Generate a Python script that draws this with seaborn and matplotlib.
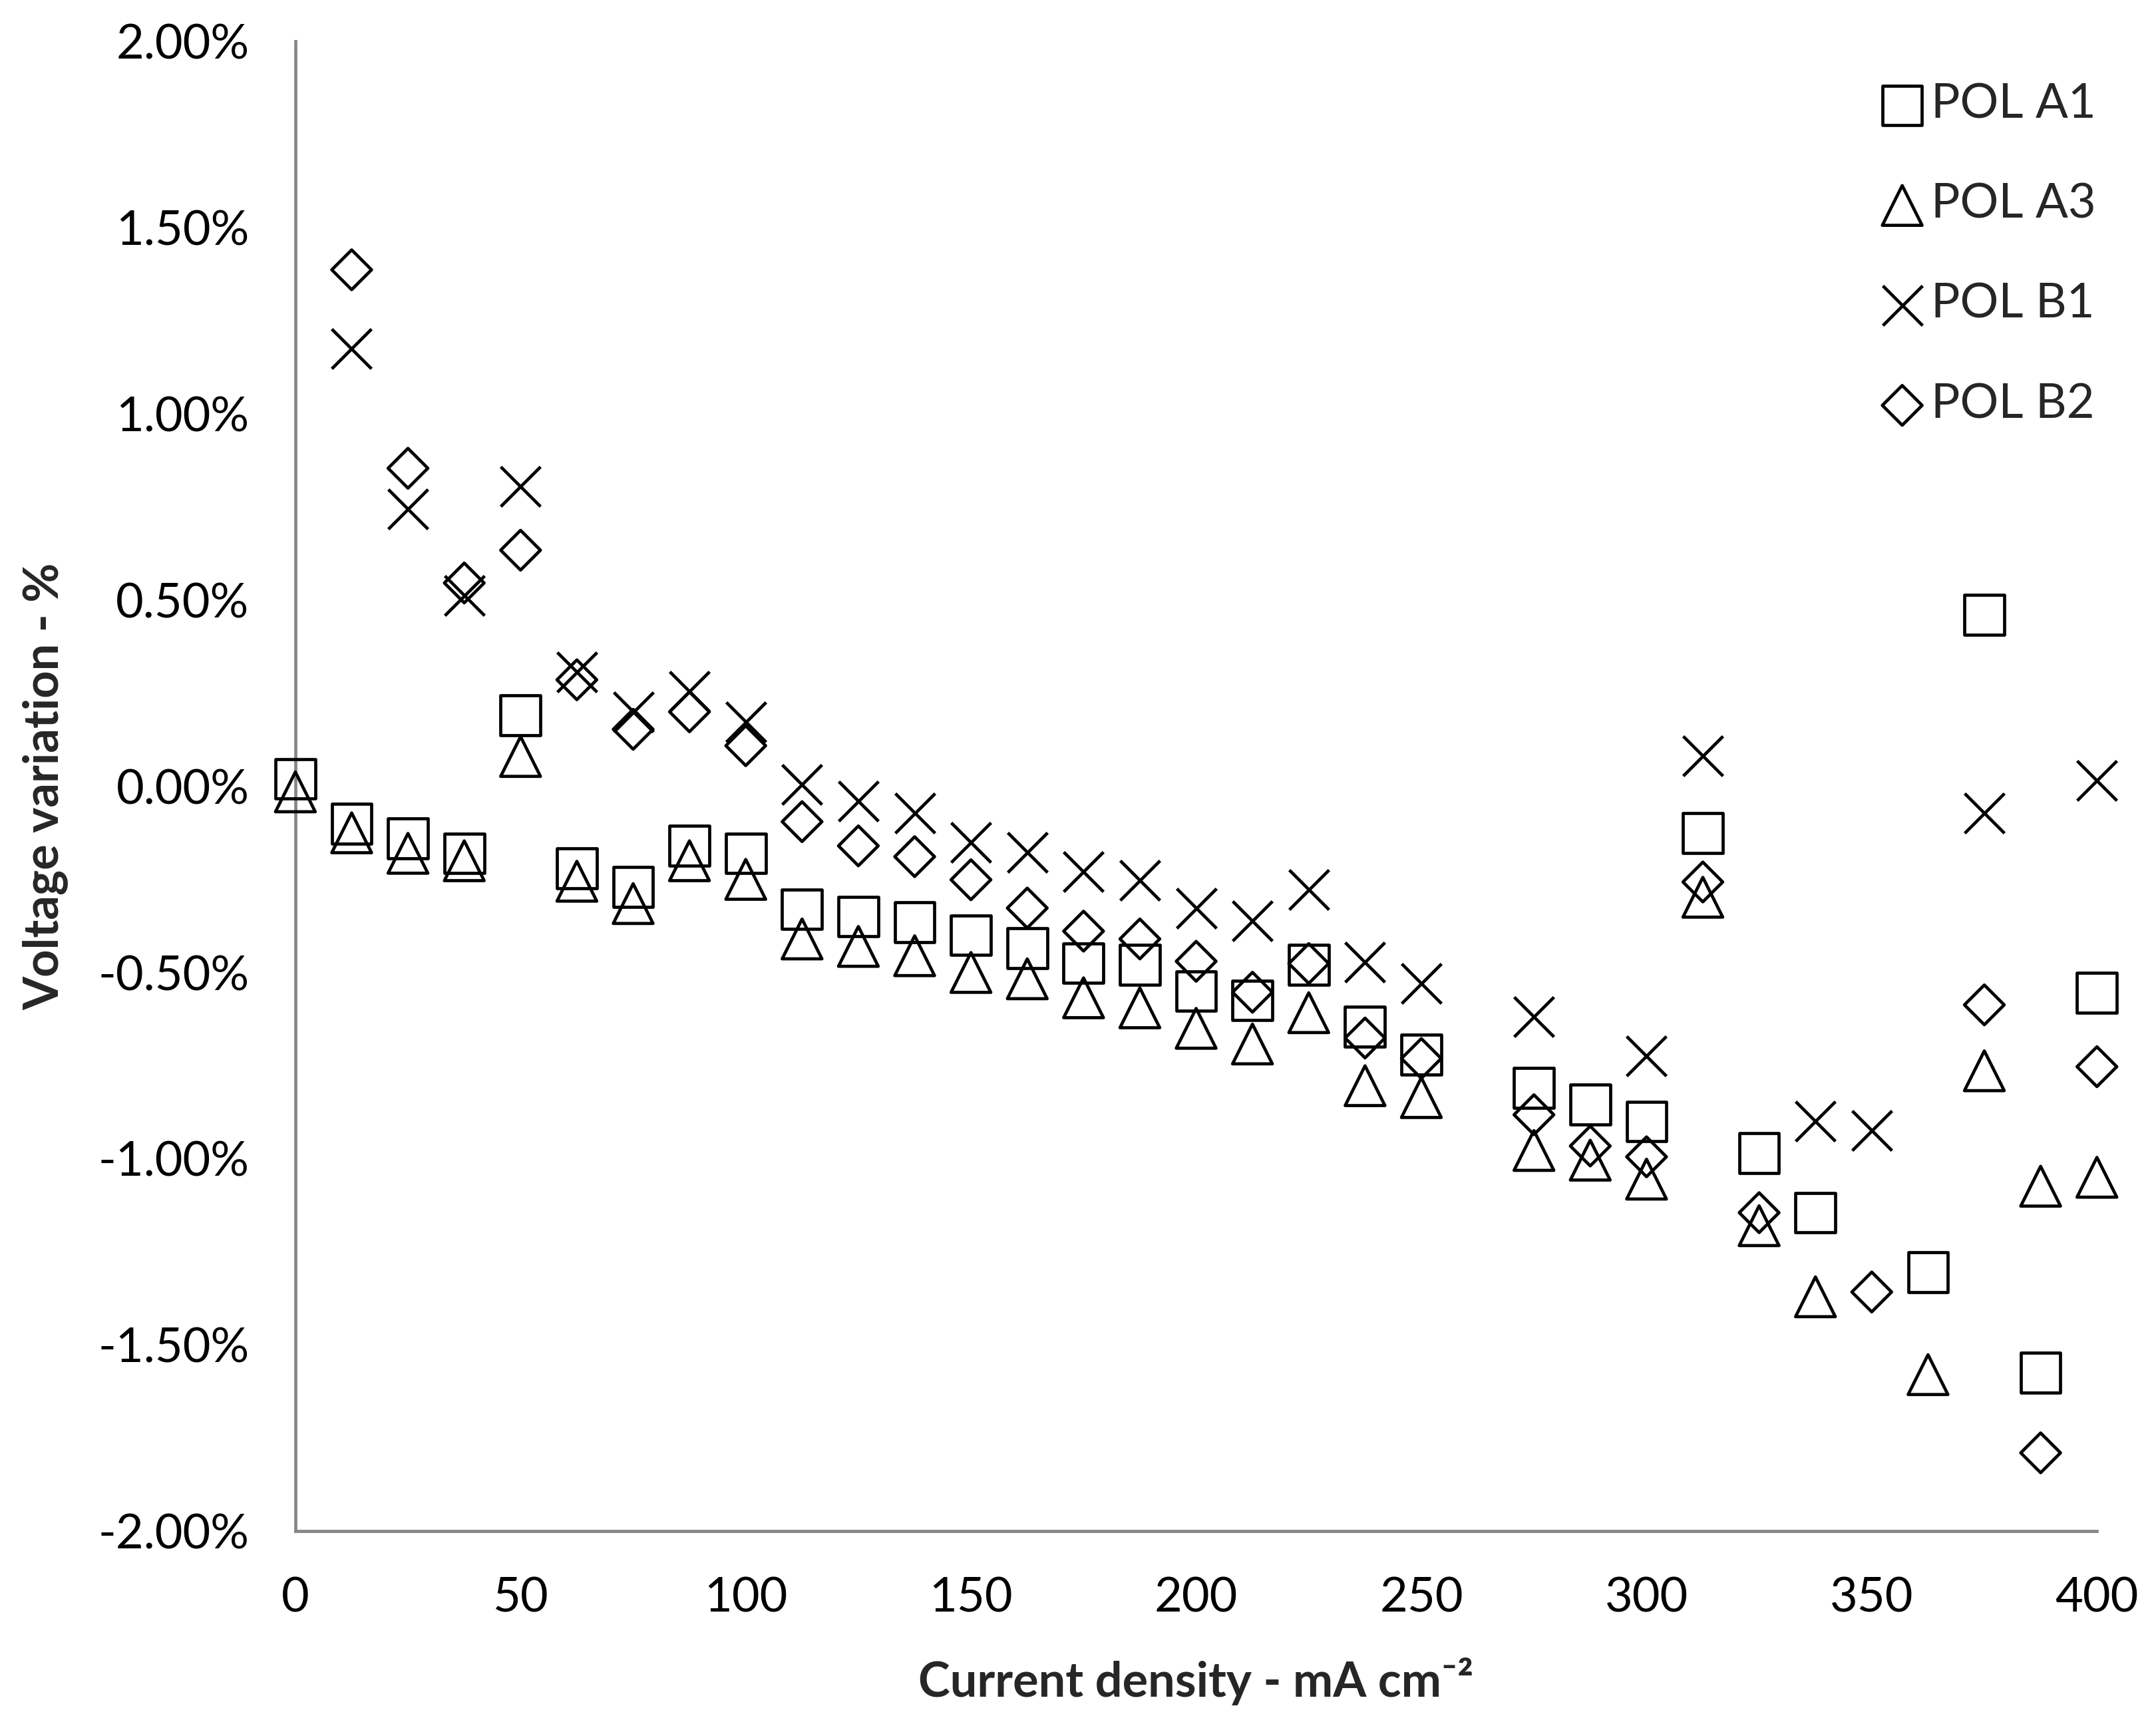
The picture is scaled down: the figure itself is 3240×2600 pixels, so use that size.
import matplotlib
matplotlib.use("Agg")
import matplotlib.pyplot as plt
import numpy as np
import pandas as pd
import seaborn as sns
from matplotlib.ticker import FuncFormatter

nan = np.nan

# current density, mA cm-2
current_density = [0, 12.5, 25, 37.5, 50, 62.5, 75, 87.5, 100, 112.5, 125,
                   137.5, 150, 162.5, 175, 187.5, 200, 212.5, 225, 237.5, 250,
                   262.5, 275, 287.5, 300, 312.5, 325, 337.5, 350, 362.5, 375,
                   387.5, 400]

# voltage variation in %
pol_a1 = [0.02, -0.10, -0.14, -0.18, 0.19, -0.22, -0.27, -0.16, -0.18, -0.33,
          -0.35, -0.365, -0.40, -0.435, -0.475, -0.48, -0.55, -0.575, -0.48,
          -0.645, -0.72, nan, -0.81, -0.855, -0.90, -0.125, -0.985, -1.145,
          nan, -1.305, 0.46, -1.575, -0.555]
pol_a3 = [-0.015, -0.125, -0.18, -0.20, 0.08, -0.255, -0.315, -0.20, -0.25,
          -0.41, -0.43, -0.455, -0.50, -0.517, -0.568, -0.595, -0.65, -0.692,
          -0.608, -0.804, -0.836, nan, -0.978, -1.004, -1.055, -0.298, -1.18,
          -1.371, nan, -1.58, -0.764, -1.074, -1.05]
pol_b1 = [nan, 1.176, 0.744, 0.512, 0.806, 0.307, 0.20, 0.255, 0.173, 0.005,
          -0.04, -0.072, -0.151, -0.178, -0.23, -0.253, -0.327, -0.362,
          -0.278, -0.472, -0.529, nan, -0.619, nan, -0.724, 0.081, nan, -0.90,
          -0.925, nan, -0.072, nan, 0.016]
pol_b2 = [nan, 1.387, 0.854, 0.546, 0.634, 0.286, 0.153, 0.20, 0.109, -0.095,
          -0.16, -0.189, -0.251, -0.327, -0.389, -0.41, -0.47, -0.553, -0.476,
          -0.676, -0.731, nan, -0.882, -0.966, -0.995, -0.257, -1.145, nan,
          -1.358, nan, -0.587, -1.79, -0.753]

series_names = ["POL A1", "POL A3", "POL B1", "POL B2"]
series_values = [pol_a1, pol_a3, pol_b1, pol_b2]
series_markers = ["s", "^", "x", "D"]
series_sizes = [1850, 1850, 1850, 925]

x_ticks = [0, 50, 100, 150, 200, 250, 300, 350, 400]
y_ticks = [-2.0, -1.5, -1.0, -0.5, 0.0, 0.5, 1.0, 1.5, 2.0]


def main():
    sns.set_style("white")
    plt.rcParams["font.family"] = ["Lato", "DejaVu Sans"]
    grey = "#868686"

    fig = plt.figure(figsize=(32.4, 26), dpi=100)
    ax = fig.add_axes([0.137, 0.115, 0.8356, 0.861])

    for name, vals, mk, sz in zip(series_names, series_values,
                                  series_markers, series_sizes):
        df = pd.DataFrame({"x": current_density, "y": vals}).dropna()
        if mk == "x":
            sns.scatterplot(data=df, x="x", y="y", marker=mk, s=sz,
                            color="black", linewidth=3.4, clip_on=False,
                            label=name, ax=ax, zorder=3)
        else:
            sns.scatterplot(data=df, x="x", y="y", marker=mk, s=sz,
                            facecolor="none", edgecolor="black",
                            linewidth=3.4, clip_on=False, label=name,
                            ax=ax, zorder=3)

    ax.set_xlim(0, 400)
    ax.set_ylim(-2, 2)
    ax.set_xticks(x_ticks)
    ax.set_yticks(y_ticks)
    ax.yaxis.set_major_formatter(FuncFormatter(lambda v, p: f"{v:.2f}%"))
    ax.tick_params(axis="both", direction="in", length=19, width=3,
                   color=grey, labelsize=52, labelcolor="black")
    ax.tick_params(axis="y", pad=50)
    ax.tick_params(axis="x", pad=49)

    for side in ["top", "right"]:
        ax.spines[side].set_visible(False)
    for side in ["left", "bottom"]:
        ax.spines[side].set_color(grey)
        ax.spines[side].set_linewidth(3.4)

    ax.set_xlabel("Current density - mA cm\u207b\u00b2", fontsize=52,
                  fontweight="bold")
    ax.set_ylabel("Voltage variation - %", fontsize=52, fontweight="bold")
    ax.yaxis.set_label_coords(-0.126, 0.5)
    ax.xaxis.set_label_coords(0.5, -0.085)

    ax.legend(loc="upper left", bbox_to_anchor=(0.860, 0.966),
              bbox_transform=fig.transFigure, frameon=False,
              fontsize=52, handletextpad=0.1, labelspacing=1.18,
              borderpad=0, handlelength=1.0)

    fig.savefig("out.png", dpi=100, facecolor="white")
    return


if __name__ == "__main__":
    main()
